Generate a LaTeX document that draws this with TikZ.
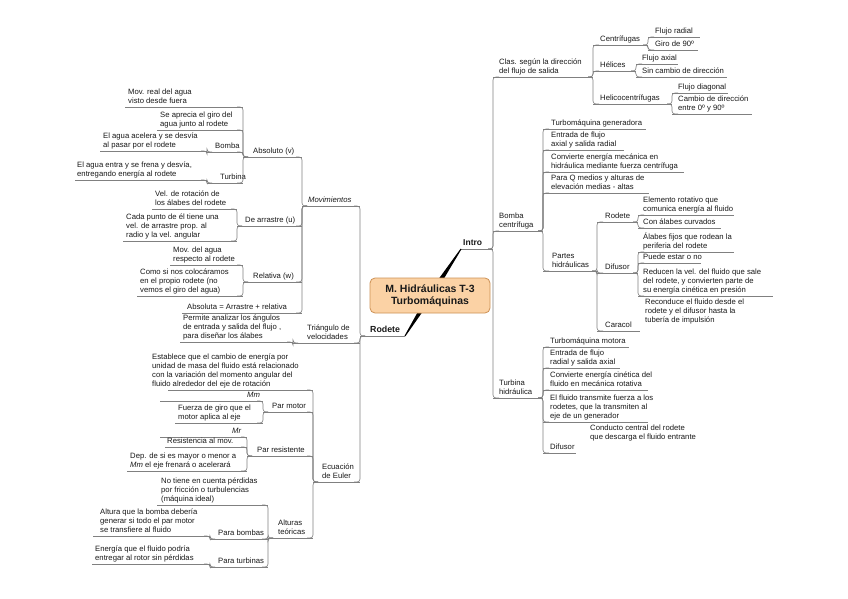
\documentclass[tikz,border=0pt]{standalone}
\usepackage{fontspec}
\setmainfont{Liberation Sans}
\usetikzlibrary{calc}
\definecolor{lnc}{RGB}{128,128,128}
\definecolor{rootfill}{RGB}{251,210,165}
\definecolor{rootdraw}{RGB}{205,145,85}
\definecolor{txtc}{RGB}{25,25,25}
\tikzset{
  txt/.style={font=\fontsize{7.7}{9}\selectfont, text=txtc, inner sep=0pt, align=left, anchor=south west},
  uline/.style={draw=lnc, line width=0.6pt},
  conn/.style={draw=lnc, line width=0.6pt, rounded corners=3pt},
  rootbox/.style={draw=rootdraw, fill=rootfill, line width=0.8pt, rounded corners=5pt,
     minimum width=120pt, minimum height=35pt, align=center,
     font=\fontsize{10.5}{12}\selectfont\bfseries, text=txtc},
  wedge/.style={fill=black}
}
% name, underline-left x, text x, underline-right x, underline y, text
\newcommand\mmtopic[6]{%
  \node[txt] (#1) at (#3,#5-0.6) {\strut #6\strut};
  \coordinate (#1-l) at (#2,#5);
  \coordinate (#1-r) at (#4,#5);
  \draw[uline] (#1-l) -- (#1-r);
}
\newcommand\mmnote[4]{\node[txt] (#1) at (#2,#3-0.6) {\strut #4\strut};}
\newcommand\rconn[2]{\draw[conn] ($(#1-r)+(-5,0)$) -- (#1-r) |- ($(#2-l)+(6,0)$);}
\newcommand\lconn[2]{\draw[conn] ($(#1-l)+(5,0)$) -- (#1-l) |- ($(#2-r)+(-6,0)$);}

\begin{document}
\begin{tikzpicture}[x=1pt,y=-1pt]
\fill[white] (0,0) rectangle (848,599);
\useasboundingbox (0,0) rectangle (848,599);

% ---------------- main branches
\mmtopic{intro}{461}{463}{493}{249}{\fontsize{8.5}{9}\selectfont\bfseries Intro}
\mmtopic{rodete}{360}{370}{405}{336}{\fontsize{8.8}{9}\selectfont\bfseries Rodete}

% ---------------- Intro side
\mmtopic{clas}{493}{499}{593}{77}{Clas. según la dirección\\del flujo de salida}
\mmtopic{cent}{593}{600}{648}{45}{Centrífugas}
\mmtopic{fr}{648}{655}{700}{37}{Flujo radial}
\mmtopic{g90}{648}{655}{698}{50}{Giro de 90º}
\mmtopic{hel}{593}{600}{636}{71}{Hélices}
\mmtopic{fa}{636}{642}{678}{64}{Flujo axial}
\mmtopic{scd}{636}{642}{727}{77}{Sin cambio de dirección}
\mmtopic{hcf}{593}{600}{672}{104}{Helicocentrífugas}
\mmtopic{fd}{672}{678}{728}{93}{Flujo diagonal}
\mmtopic{cdd}{672}{678}{752}{114}{Cambio de dirección\\entre 0º y 90º}

\mmtopic{bc}{493}{499}{543}{231}{Bomba\\centrífuga}
\mmtopic{tg}{543}{551}{646}{129}{Turbomáquina generadora}
\mmtopic{ef1}{543}{551}{624}{150}{Entrada de flujo\\axial y salida radial}
\mmtopic{cem}{543}{551}{684}{172}{Convierte energía mecánica en\\hidráulica mediante fuerza centrífuga}
\mmtopic{pq}{543}{551}{649}{193}{Para Q medios y alturas de\\elevación medias - altas}
\mmtopic{ph}{543}{552}{597}{271}{Partes\\hidráulicas}
\mmtopic{rod2}{597}{605}{638}{222}{Rodete}
\mmtopic{ero}{638}{643}{734}{215}{Elemento rotativo que\\comunica energía al fluido}
\mmtopic{cac}{638}{643}{721}{228}{Con álabes curvados}
\mmtopic{dif}{597}{605}{638}{273}{Difusor}
\mmtopic{aff}{638}{643}{734}{252}{Álabes fijos que rodean la\\periferia del rodete}
\mmtopic{peo}{638}{643}{701}{263}{Puede estar o no}
\mmtopic{red}{638}{643}{773}{296}{Reducen la vel. del fluido que sale\\del rodete, y convierten parte de\\su energía cinética en presión}
\mmtopic{car}{597}{605}{640}{331}{Caracol}
\mmnote{rec}{645}{326}{Reconduce el fluido desde el\\rodete y el difusor hasta la\\tubería de impulsión}

\mmtopic{th}{493}{499}{543}{398}{Turbina\\hidráulica}
\mmtopic{tm}{543}{550}{629}{347}{Turbomáquina motora}
\mmtopic{ef2}{543}{550}{620}{368}{Entrada de flujo\\radial y salida axial}
\mmtopic{cec}{543}{550}{648}{390}{Convierte energía cinética del\\fluido en mecánica rotativa}
\mmtopic{eft}{543}{550}{648}{422}{El fluido transmite fuerza a los\\rodetes, que la transmiten al\\eje de un generador}
\mmtopic{dif2}{543}{550}{576}{453}{Difusor}
\mmnote{ccr}{590}{443}{Conducto central del rodete\\que descarga el fluido entrante}

\rconn{intro}{clas}\rconn{intro}{bc}\rconn{intro}{th}
\rconn{clas}{cent}\rconn{clas}{hel}\rconn{clas}{hcf}
\rconn{cent}{fr}\rconn{cent}{g90}
\rconn{hel}{fa}\rconn{hel}{scd}
\rconn{hcf}{fd}\rconn{hcf}{cdd}
\rconn{bc}{tg}\rconn{bc}{ef1}\rconn{bc}{cem}\rconn{bc}{pq}\rconn{bc}{ph}
\rconn{ph}{rod2}\rconn{ph}{dif}\rconn{ph}{car}
\rconn{rod2}{ero}\rconn{rod2}{cac}
\rconn{dif}{aff}\rconn{dif}{peo}\rconn{dif}{red}
\rconn{th}{tm}\rconn{th}{ef2}\rconn{th}{cec}\rconn{th}{eft}\rconn{th}{dif2}

% ---------------- Rodete side
\mmtopic{mov}{302}{308}{360}{206}{\itshape Movimientos}
\mmtopic{abs}{243}{253}{302}{157}{Absoluto (v)}
\mmtopic{mra}{125}{128}{243}{107}{Mov. real del agua\\visto desde fuera}
\mmtopic{sag}{157}{160}{243}{130}{Se aprecia el giro del\\agua junto al rodete}
\mmtopic{bom1}{207}{215}{243}{152}{Bomba}
\mmtopic{eaa}{100}{103}{207}{151}{El agua acelera y se desvía\\al pasar por el rodete}
\mmtopic{tur1}{207}{220}{243}{183}{Turbina}
\mmtopic{eae}{75}{77}{207}{180}{El agua entra y se frena y desvía,\\entregando energía al rodete}
\mmtopic{arr}{237}{245}{302}{226}{De arrastre (u)}
\mmtopic{vr}{152}{155}{237}{209}{Vel. de rotación de\\los álabes del rodete}
\mmtopic{cpd}{123}{126}{237}{241}{Cada punto de él tiene una\\vel. de arrastre prop. al\\radio y la vel. angular}
\mmtopic{rel}{243}{253}{302}{282}{Relativa (w)}
\mmtopic{mda}{170}{173}{243}{265}{Mov. del agua\\respecto al rodete}
\mmtopic{csn}{137}{140}{243}{296}{Como si nos colocáramos\\en el propio rodete (no\\vemos el giro del agua)}
\mmtopic{aar}{182}{187}{302}{313}{Absoluta = Arrastre + relativa}

\mmtopic{tri}{293}{307}{360}{343}{Triángulo de\\velocidades}
\mmtopic{pal}{180}{183}{293}{342}{Permite analizar los ángulos\\de entrada y salida del flujo ,\\para diseñar los álabes}

\mmtopic{eul}{313}{322}{360}{482}{Ecuación\\de Euler}
\mmtopic{est}{168}{152}{313}{390}{Establece que el cambio de energía por\\unidad de masa del fluido está relacionado\\con la variación del momento angular del\\fluido alrededor del eje de rotación}
\mmtopic{pm}{263}{272}{313}{412}{Par motor}
\mmtopic{mm}{160}{247}{263}{401}{\itshape Mm}
\mmtopic{fgm}{175}{178}{263}{423}{Fuerza de giro que el\\motor aplica al eje}
\mmtopic{pr}{247}{257}{313}{456}{Par resistente}
\mmtopic{mr}{160}{232}{247}{437}{\itshape Mr}
\mmtopic{ram}{165}{167}{247}{447}{Resistencia al mov.}
\mmtopic{dep}{127}{130}{247}{471}{Dep. de si es mayor o menor a\\\textit{Mm} el eje frenará o acelerará}
\mmtopic{alt}{268}{278}{313}{538}{Alturas\\teóricas}
\mmtopic{ntc}{157}{161}{268}{505}{No tiene en cuenta pérdidas\\por fricción o turbulencias\\(máquina ideal)}
\mmtopic{pb}{210}{218}{268}{539}{Para bombas}
\mmtopic{aqb}{93}{100}{210}{536}{Altura que la bomba debería\\generar si todo el par motor\\se transfiere al fluido}
\mmtopic{pt}{210}{218}{268}{567}{Para turbinas}
\mmtopic{eqf}{92}{95}{210}{564}{Energía que el fluido podría\\entregar al rotor sin pérdidas}

\lconn{rodete}{mov}\lconn{rodete}{tri}\lconn{rodete}{eul}
\lconn{mov}{abs}\lconn{mov}{arr}\lconn{mov}{rel}\lconn{mov}{aar}
\lconn{abs}{mra}\lconn{abs}{sag}\lconn{abs}{bom1}\lconn{abs}{tur1}
\lconn{bom1}{eaa}\lconn{tur1}{eae}
\lconn{arr}{vr}\lconn{arr}{cpd}
\lconn{rel}{mda}\lconn{rel}{csn}
\lconn{tri}{pal}
\lconn{eul}{est}\lconn{eul}{pm}\lconn{eul}{pr}\lconn{eul}{alt}
\lconn{pm}{mm}\lconn{pm}{fgm}
\lconn{pr}{mr}\lconn{pr}{ram}\lconn{pr}{dep}
\lconn{alt}{ntc}\lconn{alt}{pb}\lconn{alt}{pt}
\lconn{pb}{aqb}\lconn{pt}{eqf}

% ---------------- central topic with tapered connectors
\coordinate (rc) at (430,296);
\fill[wedge] ($(rc)+(2.5,1.7)$) -- ($(intro-l)+(0.4,0.3)$) -- ($(intro-l)+(-0.4,-0.3)$) -- ($(rc)+(-2.5,-1.7)$) -- cycle;
\fill[wedge] ($(rc)+(2.5,1.6)$) -- ($(rodete-r)+(0.4,0.3)$) -- ($(rodete-r)+(-0.4,-0.3)$) -- ($(rc)+(-2.5,-1.6)$) -- cycle;
\node[rootbox] (root) at (430,295.5) {M. Hidráulicas T-3\\Turbomáquinas};
\end{tikzpicture}
\end{document}
